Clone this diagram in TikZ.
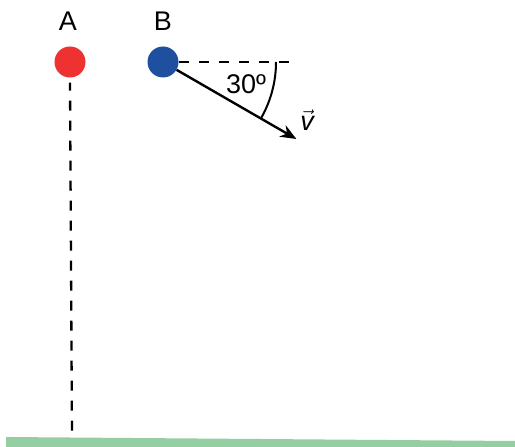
\documentclass[tikz,border=0pt]{standalone}
\usepackage{fontspec}
\setmainfont{Liberation Sans}
\usetikzlibrary{arrows.meta,calc}
\definecolor{ballred}{HTML}{EE3131}
\definecolor{ballblue}{HTML}{1F4F9F}
\definecolor{groundgreen}{HTML}{93CFA3}
\tikzset{
  ball/.style={circle, minimum size=31pt, inner sep=0pt},
  lbl/.style={font=\fontsize{27}{27}\selectfont, inner sep=0pt},
  dashline/.style={line width=2.3pt, dash pattern=on 10pt off 10pt},
}
\begin{document}
\begin{tikzpicture}[x=1pt,y=1pt]
\useasboundingbox (0,0) rectangle (515,447);
% ground
\fill[groundgreen] (6,0) -- (6,10) -- (515,6) -- (515,0) -- cycle;
\coordinate (G) at (72,10);
% balls
\node[ball, fill=ballred] (A) at (70,385) {};
\node[ball, fill=ballblue] (B) at (163,385) {};
\node[lbl] (la) at (68,426) {A};
\node[lbl] (lb) at (163,426) {B};
\coordinate (H) at (298,385);
% dashed lines
\draw[dashline, dash phase=2pt] (A.south) ++(0,-5) coordinate (A1) -- (G);
\draw[dashline] (B.east) -- (H);
% velocity arrow
\coordinate (V) at ($(B)+(-30:154)$);
\draw[line width=2.4pt, -{Stealth[length=16pt,width=13pt]}] (B.-30) -- (V);
% angle arc
\draw[line width=2pt] ($(B)+(0:113)$) arc[start angle=0, end angle=-30, radius=113];
\node[lbl] (ang) at (246,363) {30º};
\node[lbl] (v) at (307,327) {$\vec{\textit{v}}$};
\end{tikzpicture}
\end{document}
